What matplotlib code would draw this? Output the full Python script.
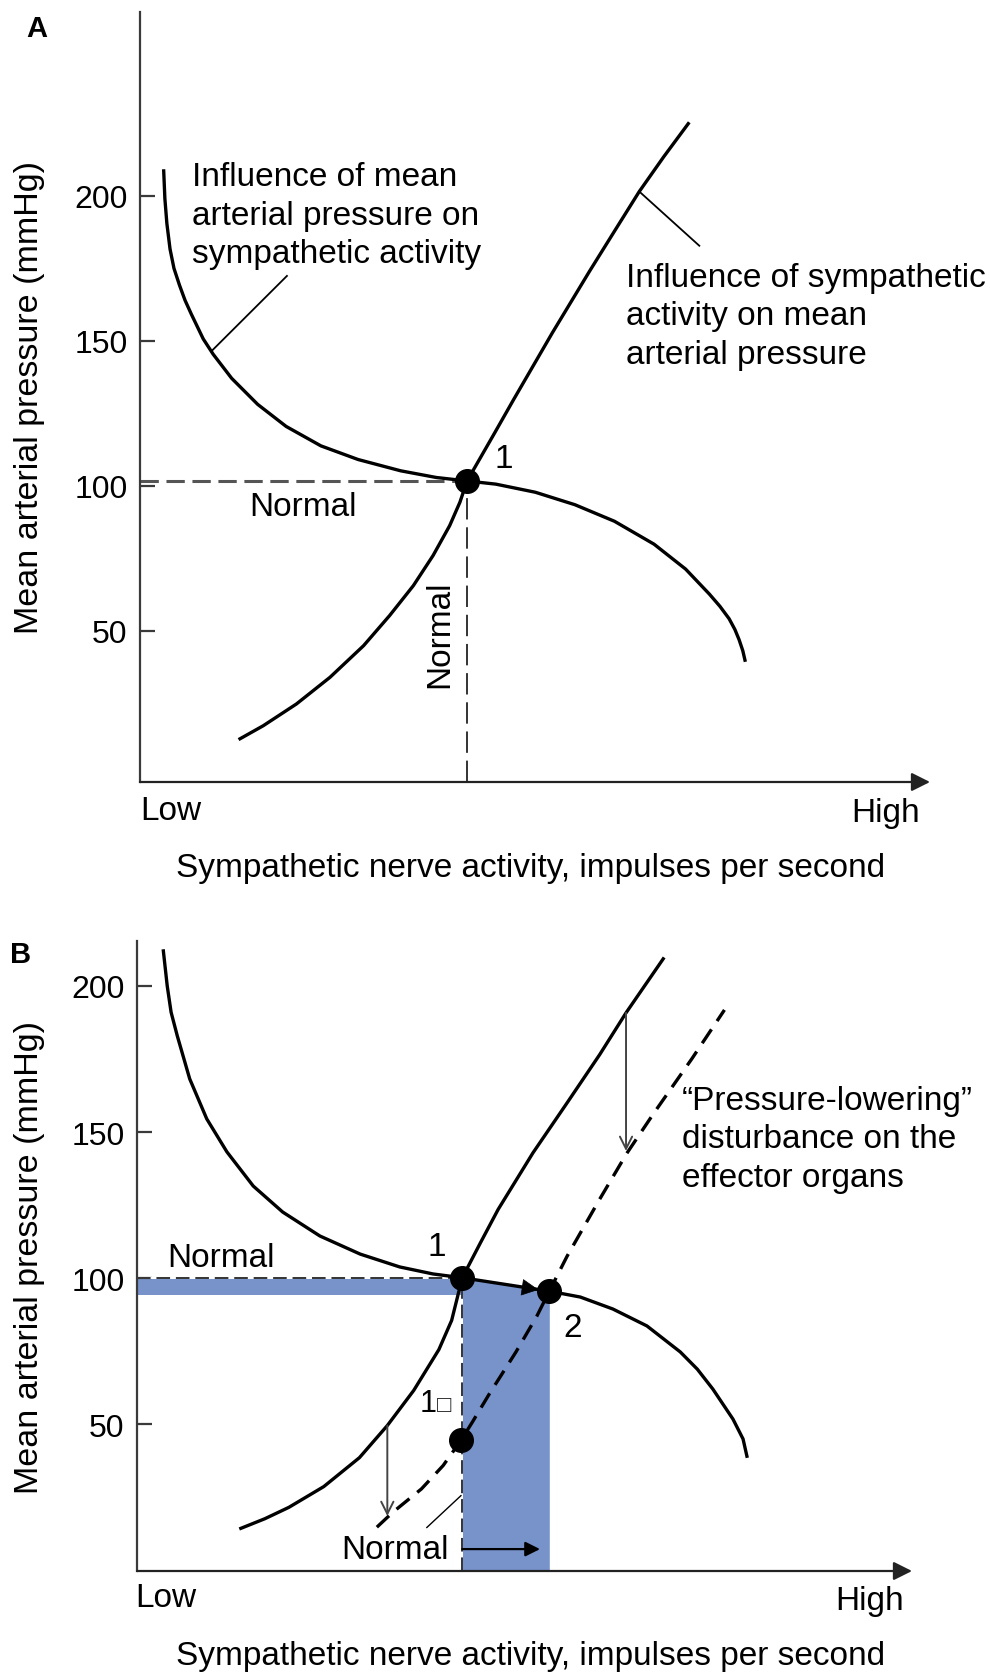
import matplotlib.pyplot as plt

plt.rcParams['font.family'] = ['Liberation Sans', 'DejaVu Sans']

W, H = 990, 1674
FS = 24

# x = sympathetic activity on a 0 (low) .. 100 (high) scale, y = mean arterial pressure (mmHg)
# --- panel A ---
a_baro_x = [3.0, 3.15, 3.4, 3.8, 4.3, 5.0, 5.7, 6.5, 8.0, 9.26, 11.6, 14.9, 18.5, 22.9, 27.6, 33.0, 37.5, 41.4,
            45.05, 50.05, 55.06, 60.06, 65.07, 69.07, 72.07, 73.4, 74.57, 75.3, 75.83, 76.3, 76.58]
a_baro_y = [208.6, 199.0, 190.5, 181.7, 175.0, 169.2, 164.0, 159.2, 150.7, 145.4, 137.1, 128.1, 120.5, 113.8,
            109.1, 105.2, 102.9, 101.7,
            100.6, 97.8, 93.5, 87.8, 79.9, 71.3, 62.7, 58.5, 54.2, 50.5, 47.0, 43.2, 39.9]
a_eff_x = [12.66, 15.6, 19.8, 24.05, 28.3, 31.6, 34.6, 37.1, 39.2, 40.5, 41.4,
           44.9, 47.3, 52.2, 56.9, 60.1, 63.2, 66.3, 69.4]
a_eff_y = [12.8, 17.3, 24.8, 34.0, 44.9, 55.3, 65.6, 76.0, 86.3, 94.4, 101.7,
           118.3, 129.8, 152.8, 174.0, 188.0, 201.5, 213.5, 224.9]
a_set = (41.4, 101.7)

# --- panel B ---
b_baro_x = [3.4, 3.9, 4.4, 5.2, 6.8, 9.0, 11.6, 15.0, 18.8, 23.6, 28.8, 33.9, 38.2, 41.97,
            53.2, 57.2, 61.4, 65.8, 70.1, 72.3, 74.3, 76.9, 78.2, 78.7]
b_baro_y = [212.0, 200.0, 191.0, 182.9, 168.2, 154.5, 143.2, 131.5, 122.6, 114.4, 108.2, 103.8, 101.4, 100.1,
            95.5, 93.5, 89.4, 83.6, 74.7, 68.8, 62.0, 51.7, 44.9, 39.0]
b_eff_x = [13.4, 16.5, 19.6, 24.1, 28.7, 32.3, 35.7, 38.95, 40.6, 41.97,
           44.3, 46.6, 51.1, 55.5, 59.7, 63.1, 67.9]
b_eff_y = [14.3, 17.6, 21.5, 28.6, 38.5, 49.5, 61.5, 75.5, 85.5, 100.1,
           112.0, 123.5, 142.9, 160.0, 176.5, 190.8, 209.3]
b_low_x = [30.95, 33.0, 36.7, 39.5, 41.8, 43.3, 45.5, 48.9, 51.6, 53.2, 55.5, 59.7, 63.2, 66.7, 71.6, 75.8]
b_low_y = [14.7, 19.8, 27.8, 35.8, 44.4, 50.8, 60.5, 74.7, 87.0, 95.5, 107.5, 127.0, 142.7, 156.5, 175.1, 191.8]
b_pt1 = (41.97, 100.1)
b_pt2 = (53.2, 95.5)
b_pt1a = (41.8, 44.4)

BLUE = '#7893ca'
AXC = '#3a3a3a'


def frame(l, r, t, b):
    return [l / W, 1 - b / H, (r - l) / W, (b - t) / H]


def ftext(x, y, s, **kw):
    kw.setdefault('fontsize', FS)
    kw.setdefault('ha', 'center')
    kw.setdefault('va', 'center')
    fig.text(x / W, 1 - y / H, s, **kw)


def style_axis(ax, ylim):
    ax.set_xlim(0, 100)
    ax.set_ylim(*ylim)
    for s in ['top', 'right', 'bottom']:
        ax.spines[s].set_visible(False)
    ax.spines['left'].set_color(AXC)
    ax.spines['left'].set_linewidth(1.6)
    ax.set_xticks([])
    ax.set_yticks([50, 100, 150, 200])
    ax.tick_params(axis='y', direction='in', length=11, width=1.6, color=AXC,
                   labelsize=23, pad=9)
    ax.annotate('', xy=(1, 0), xytext=(0, 0), xycoords='axes fraction',
                arrowprops=dict(arrowstyle='-|>', color='#222', lw=1.6,
                                mutation_scale=28, shrinkA=0, shrinkB=0),
                annotation_clip=False)
    ax.patch.set_alpha(0)


fig = plt.figure(figsize=(W / 100, H / 100), dpi=100)

# ---------------- panel A ----------------
axA = fig.add_axes(frame(140, 930, 13, 783))
style_axis(axA, (-2.1, 263.4))
axA.plot([0, a_set[0]], [a_set[1], a_set[1]], color='#555', lw=2.2, ls=(0, (6, 2.5)))
axA.plot([a_set[0], a_set[0]], [-2.1, a_set[1]], color='#333', lw=1.4, ls=(0, (11, 4)))
axA.plot(a_baro_x, a_baro_y, color='k', lw=2.4, solid_joinstyle='round')
axA.plot(a_eff_x, a_eff_y, color='k', lw=2.4, solid_joinstyle='round')
axA.plot(*a_set, 'o', color='k', ms=17)
axA.plot([9.1, 18.6], [146.6, 172.4], color='k', lw=1.3)
axA.plot([63.2, 70.8], [201.5, 182.8], color='k', lw=1.3)

ftext(37, 29, 'A', fontweight='bold', fontsize=21)
ftext(30, 398, 'Mean arterial pressure (mmHg)', rotation=90, fontsize=24.5)
ftext(192, 216, 'Influence of mean\narterial pressure on\nsympathetic activity', ha='left', linespacing=1.33)
ftext(626, 317, 'Influence of sympathetic\nactivity on mean\narterial pressure', ha='left', linespacing=1.33)
ftext(504, 459, '1')
ftext(303, 508, 'Normal')
ftext(440, 634, 'Normal', rotation=90)
ftext(171, 812, 'Low')
ftext(886, 814, 'High')
ftext(531, 869, 'Sympathetic nerve activity, impulses per second')

# ---------------- panel B ----------------
axB = fig.add_axes(frame(137, 912, 942, 1572))
style_axis(axB, (-0.3, 215.4))
x1, y1 = b_pt1
x2, y2 = b_pt2
axB.fill_between([0, x1], [y2 - 1.3, y2 - 1.3], [y1, y1], color=BLUE, lw=0)
axB.fill_between([x1, x2], [-0.3, -0.3], [y1, y2], color=BLUE, lw=0)
axB.plot([0, x1], [y1, y1], color='white', lw=1.4)
axB.plot([0, x1], [y1, y1], color='#333', lw=1.4, ls=(0, (7, 3)))
axB.plot([x1, x1], [-0.3, y1], color='white', lw=1.4)
axB.plot([x1, x1], [-0.3, y1], color='#333', lw=1.4, ls=(0, (7, 3)))
axB.plot(b_baro_x, b_baro_y, color='k', lw=2.4, solid_joinstyle='round')
axB.plot(b_eff_x, b_eff_y, color='k', lw=2.4, solid_joinstyle='round')
axB.plot(b_low_x, b_low_y, color='k', lw=2.4, ls=(0, (5, 3)))
axB.annotate('', xy=(63.1, 143.5), xytext=(63.1, 190.8),
             arrowprops=dict(arrowstyle='->', color='#444', lw=1.4, mutation_scale=22,
                             shrinkA=0, shrinkB=0))
axB.annotate('', xy=(32.3, 18.5), xytext=(32.3, 49.5),
             arrowprops=dict(arrowstyle='->', color='#444', lw=1.4, mutation_scale=22,
                             shrinkA=0, shrinkB=0))
axB.annotate('', xy=(51.8, 96.0), xytext=(47.0, 97.9),
             arrowprops=dict(arrowstyle='-|>', color='k', lw=0.5, mutation_scale=28,
                             shrinkA=0, shrinkB=0))
axB.annotate('', xy=(52.0, 7.2), xytext=(41.97, 7.2),
             arrowprops=dict(arrowstyle='-|>', color='k', lw=1.6, mutation_scale=22,
                             shrinkA=0, shrinkB=0))
axB.plot([37.4, 41.8], [14.6, 25.5], color='k', lw=1.0)
for p in (b_pt1, b_pt2, b_pt1a):
    axB.plot(*p, 'o', color='k', ms=17)

ftext(21, 955, 'B', fontweight='bold', fontsize=21)
ftext(30, 1258, 'Mean arterial pressure (mmHg)', rotation=90, fontsize=24.5)
ftext(221, 1259, 'Normal')
ftext(437, 1248, '1')
ftext(573, 1329, '2')
ftext(428, 1412, '1', fontsize=22, va='baseline')
ftext(444, 1412, '\u25a1', fontsize=17, va='baseline', color='#222')
ftext(395, 1551, 'Normal')
ftext(682, 1140, '\u201cPressure-lowering\u201d\ndisturbance on the\neffector organs', ha='left', linespacing=1.33)
ftext(166, 1599, 'Low')
ftext(870, 1602, 'High')
ftext(531, 1657, 'Sympathetic nerve activity, impulses per second')

fig.savefig('out.png', dpi=100, facecolor='white')
